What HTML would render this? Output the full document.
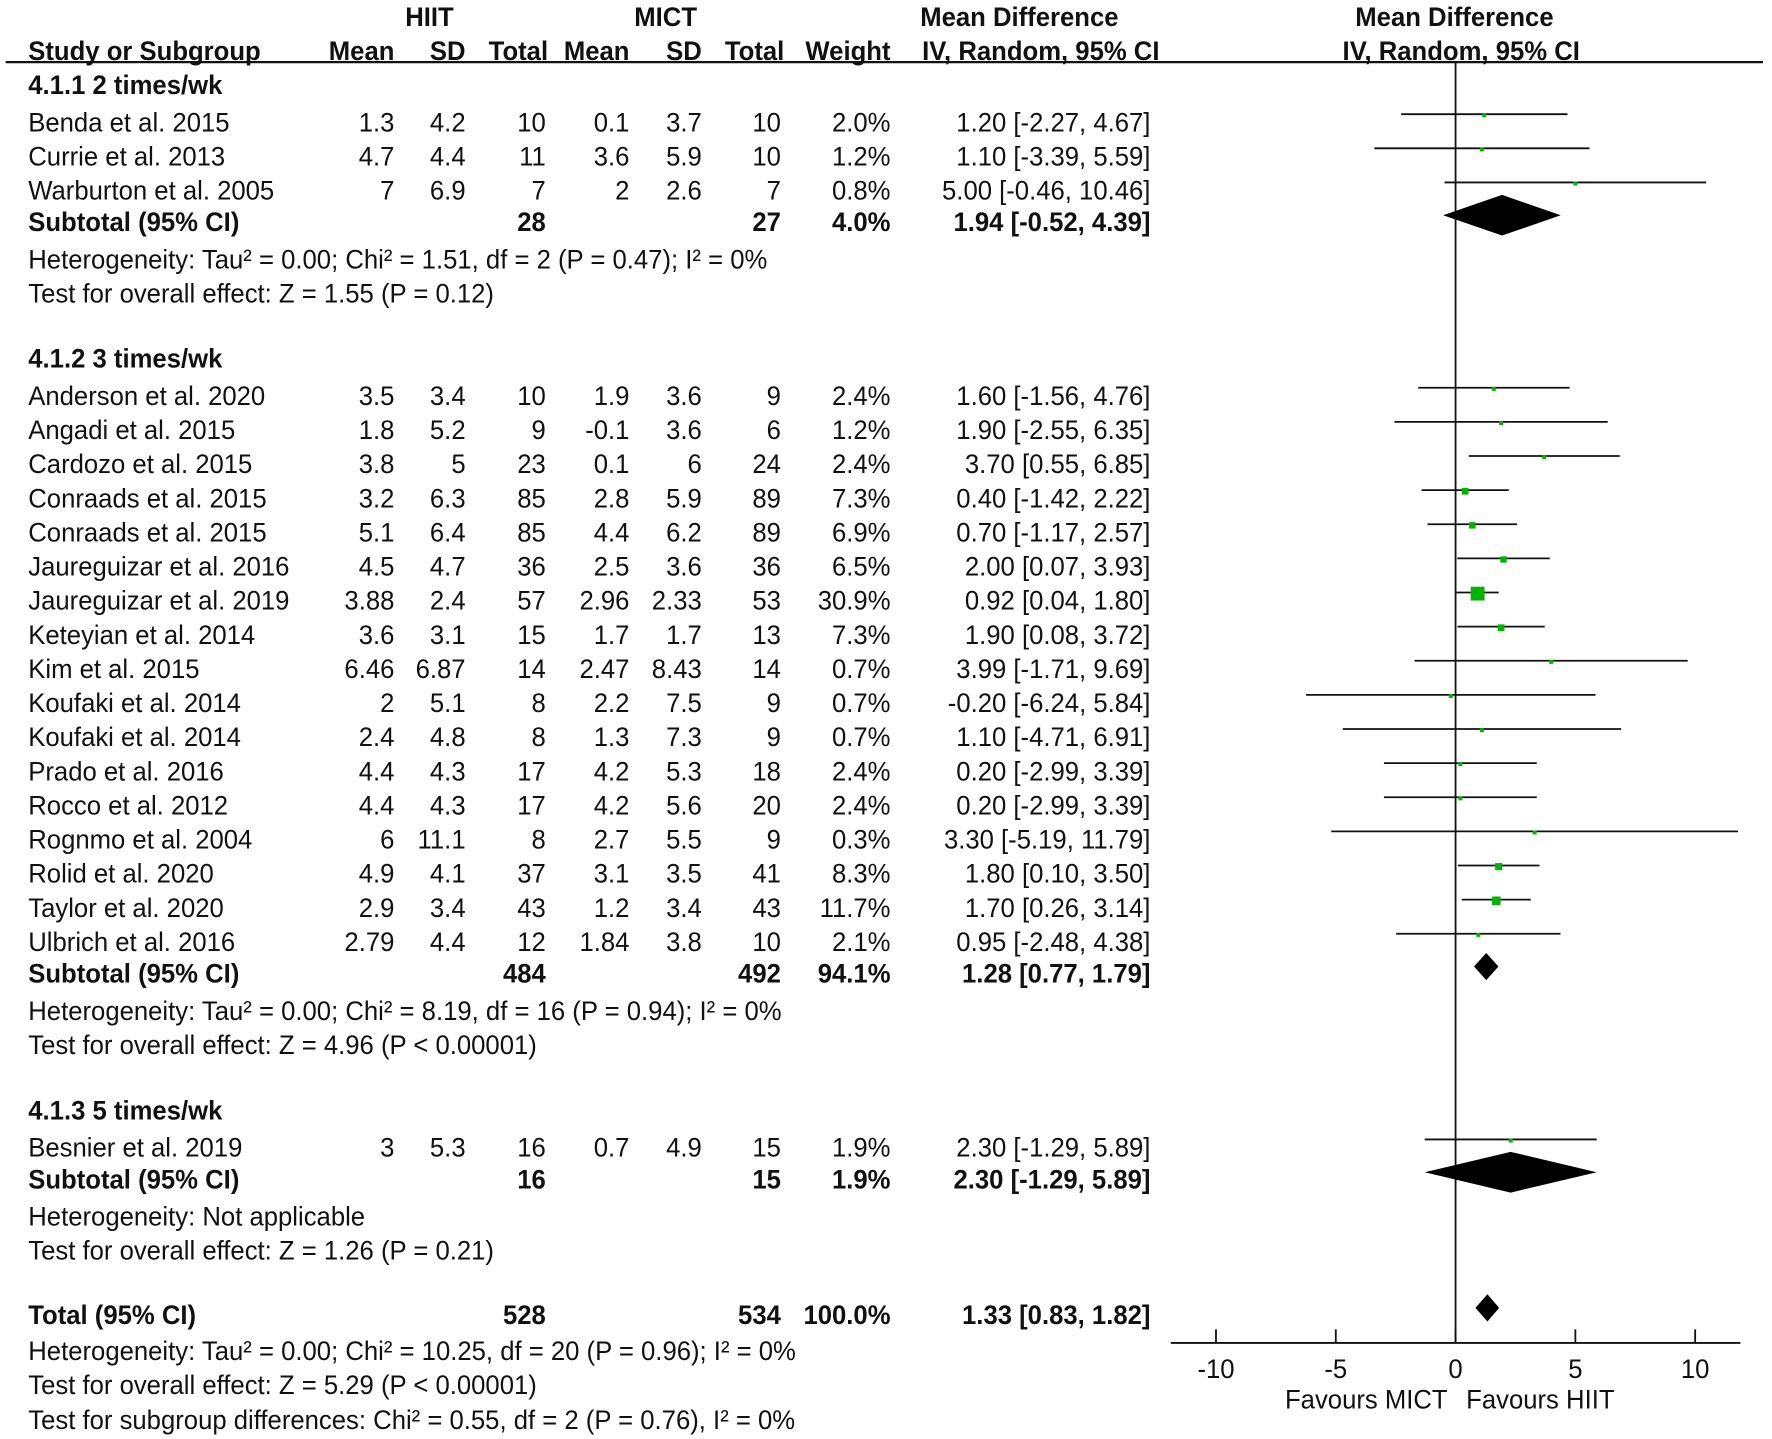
<!DOCTYPE html>
<html><head><meta charset="utf-8"><style>
html,body{margin:0;padding:0;background:#fff;}
svg{display:block;}
text{font-family:"Liberation Sans",Arial,sans-serif;font-size:24px;fill:#111;}
.b{font-weight:bold;}
</style></head><body>
<svg id="plot" width="1772" height="1439" viewBox="0 0 1568 1273" preserveAspectRatio="none" xmlns="http://www.w3.org/2000/svg"></svg>
<script>
const studyNames=["Benda et al. 2015","Currie et al. 2013","Warburton et al. 2005","Anderson et al. 2020","Angadi et al. 2015","Cardozo et al. 2015","Conraads et al. 2015","Conraads et al. 2015","Jaureguizar et al. 2016","Jaureguizar et al. 2019","Keteyian et al. 2014","Kim et al. 2015","Koufaki et al. 2014","Koufaki et al. 2014","Prado et al. 2016","Rocco et al. 2012","Rognmo et al. 2004","Rolid et al. 2020","Taylor et al. 2020","Ulbrich et al. 2016","Besnier et al. 2019"];
const studyGroup=[0,0,0,1,1,1,1,1,1,1,1,1,1,1,1,1,1,1,1,1,2];
const hiitMean=["1.3","4.7","7","3.5","1.8","3.8","3.2","5.1","4.5","3.88","3.6","6.46","2","2.4","4.4","4.4","6","4.9","2.9","2.79","3"];
const hiitSD=["4.2","4.4","6.9","3.4","5.2","5","6.3","6.4","4.7","2.4","3.1","6.87","5.1","4.8","4.3","4.3","11.1","4.1","3.4","4.4","5.3"];
const hiitN=[10,11,7,10,9,23,85,85,36,57,15,14,8,8,17,17,8,37,43,12,16];
const mictMean=["0.1","3.6","2","1.9","-0.1","0.1","2.8","4.4","2.5","2.96","1.7","2.47","2.2","1.3","4.2","4.2","2.7","3.1","1.2","1.84","0.7"];
const mictSD=["3.7","5.9","2.6","3.6","3.6","6","5.9","6.2","3.6","2.33","1.7","8.43","7.5","7.3","5.3","5.6","5.5","3.5","3.4","3.8","4.9"];
const mictN=[10,10,7,9,6,24,89,89,36,53,13,14,9,9,18,20,9,41,43,10,15];
const weights=[2.0,1.2,0.8,2.4,1.2,2.4,7.3,6.9,6.5,30.9,7.3,0.7,0.7,0.7,2.4,2.4,0.3,8.3,11.7,2.1,1.9];
const md=[1.20,1.10,5.00,1.60,1.90,3.70,0.40,0.70,2.00,0.92,1.90,3.99,-0.20,1.10,0.20,0.20,3.30,1.80,1.70,0.95,2.30];
const ciLo=[-2.27,-3.39,-0.46,-1.56,-2.55,0.55,-1.42,-1.17,0.07,0.04,0.08,-1.71,-6.24,-4.71,-2.99,-2.99,-5.19,0.10,0.26,-2.48,-1.29];
const ciHi=[4.67,5.59,10.46,4.76,6.35,6.85,2.22,2.57,3.93,1.80,3.72,9.69,5.84,6.91,3.39,3.39,11.79,3.50,3.14,4.38,5.89];
const groupTitles=["4.1.1 2 times/wk","4.1.2 3 times/wk","4.1.3 5 times/wk"];
const subHiitN=[28,484,16];
const subMictN=[27,492,15];
const subWeight=["4.0%","94.1%","1.9%"];
const subMd=[1.94,1.28,2.30];
const subLo=[-0.52,0.77,-1.29];
const subHi=[4.39,1.79,5.89];
const subHet=["Heterogeneity: Tau² = 0.00; Chi² = 1.51, df = 2 (P = 0.47); I² = 0%","Heterogeneity: Tau² = 0.00; Chi² = 8.19, df = 16 (P = 0.94); I² = 0%","Heterogeneity: Not applicable"];
const subTest=["Test for overall effect: Z = 1.55 (P = 0.12)","Test for overall effect: Z = 4.96 (P < 0.00001)","Test for overall effect: Z = 1.26 (P = 0.21)"];
const totalVals={hn:528,mn:534,w:"100.0%",md:1.33,lo:0.83,hi:1.82};
const xTicks=[-10,-5,0,5,10];

const svg=document.getElementById('plot');
const NS="http://www.w3.org/2000/svg";
const X0=1288, PX=21.2, AXY=1188;
function xs(v){return X0+v*PX;}
function mk(tag,attrs,name){const e=document.createElementNS(NS,tag);for(const k in attrs)e.setAttribute(k,attrs[k]);


svg.appendChild(e);return e;}
function txt(s,x,y,anchor,bold,name){const e=mk('text',{transform:`translate(${x},${y}) scale(0.947,1)`,'text-anchor':anchor||'start','dominant-baseline':'central'},name);if(bold)e.setAttribute('class','b');e.textContent=s;return e;}
function f2(v){return v.toFixed(2);}
function ci(m,l,h){return `${f2(m)} [${f2(l)}, ${f2(h)}]`;}
const colR=[349,412,483,557,621,691,788];

txt("HIIT",380,15,'middle',true,'hiit-header');
txt("MICT",589,15,'middle',true,'mict-header');
txt("Mean Difference",902,15,'middle',true,'md-header');
txt("Mean Difference",1287,15,'middle',true,'plot-md-header');
const hdr=["Mean","SD","Total","Mean","SD","Total","Weight"];
txt("Study or Subgroup",25,45,'start',true,'study-header');
hdr.forEach((h,i)=>txt(h,colR[i]+(i==2?2:i==5?3:0),45,'end',true,'col-header-'+h.toLowerCase()));
txt("IV, Random, 95% CI",921,45,'middle',true,'ci-header');
txt("IV, Random, 95% CI",1293,45,'middle',true,'plot-ci-header');
mk('line',{x1:5,y1:55,x2:1560,y2:55,stroke:'#111','stroke-width':2},'header-rule');
mk('line',{x1:xs(0),y1:55,x2:xs(0),y2:AXY,stroke:'#111','stroke-width':1.6},'zero-line');

const groupStart=[75,317,982];
groupTitles.forEach((g,gi)=>{
  let y=groupStart[gi];
  txt(g,25,y,'start',true,'group-title');
  y+=33;
  const members=[];studyGroup.forEach((v,i)=>{if(v===gi)members.push(i);});
  members.forEach((i,k)=>{
    const ry=y+k*30.19;
    txt(studyNames[i],25,ry,'start',false,'study-name');
    [hiitMean[i],hiitSD[i],hiitN[i],mictMean[i],mictSD[i],mictN[i],weights[i].toFixed(1)+"%"].forEach((v,c)=>txt(String(v),colR[c],ry,'end',false,'study-value'));
    txt(ci(md[i],ciLo[i],ciHi[i]),1018,ry,'end',false,'study-ci');
    mk('line',{x1:xs(ciLo[i]),y1:ry-7,x2:xs(ciHi[i]),y2:ry-7,stroke:'#111','stroke-width':1.6},'ci-line');
    const s=Math.max(3.5,2.2*Math.sqrt(weights[i]));
    mk('rect',{x:xs(md[i])-s/2,y:ry-6-s/2,width:s,height:s,fill:'#00b400'},'effect-square');
  });
  const sy=y+(members.length-1)*30.19+28;
  txt("Subtotal (95% CI)",25,sy,'start',true,'subtotal-label');
  txt(String(subHiitN[gi]),colR[2],sy,'end',true,'subtotal-hiit-n');
  txt(String(subMictN[gi]),colR[5],sy,'end',true,'subtotal-mict-n');
  txt(subWeight[gi],colR[6],sy,'end',true,'subtotal-weight');
  txt(ci(subMd[gi],subLo[gi],subHi[gi]),1018,sy,'end',true,'subtotal-ci');
  const w=xs(subHi[gi])-xs(subLo[gi]);const hh=w>60?18:12;
  mk('polygon',{points:`${xs(subLo[gi])},${sy-6} ${xs(subMd[gi])},${sy-6-hh} ${xs(subHi[gi])},${sy-6} ${xs(subMd[gi])},${sy-6+hh}`,fill:'#000'},'subtotal-diamond');
  txt(subHet[gi],25,sy+33,'start',false,'heterogeneity');
  txt(subTest[gi],25,sy+63,'start',false,'overall-effect');
});
const ty=1163;
txt("Total (95% CI)",25,ty,'start',true,'total-label');
txt(String(totalVals.hn),colR[2],ty,'end',true,'total-hiit-n');
txt(String(totalVals.mn),colR[5],ty,'end',true,'total-mict-n');
txt(totalVals.w,colR[6],ty,'end',true,'total-weight');
txt(ci(totalVals.md,totalVals.lo,totalVals.hi),1018,ty,'end',true,'total-ci');
mk('polygon',{points:`${xs(totalVals.lo)},${ty-6} ${xs(totalVals.md)},${ty-18} ${xs(totalVals.hi)},${ty-6} ${xs(totalVals.md)},${ty+6}`,fill:'#000'},'total-diamond');
txt("Heterogeneity: Tau² = 0.00; Chi² = 10.25, df = 20 (P = 0.96); I² = 0%",25,1195,'start',false,'total-heterogeneity');
txt("Test for overall effect: Z = 5.29 (P < 0.00001)",25,1225,'start',false,'total-overall-effect');
txt("Test for subgroup differences: Chi² = 0.55, df = 2 (P = 0.76), I² = 0%",25,1256,'start',false,'subgroup-differences');
mk('line',{x1:1036,y1:AXY,x2:1540,y2:AXY,stroke:'#111','stroke-width':1.6},'x-axis');
xTicks.forEach(t=>{
  mk('line',{x1:xs(t),y1:AXY,x2:xs(t),y2:AXY-12,stroke:'#111','stroke-width':1.6},'x-tick');
  txt(String(t),xs(t),AXY+23,'middle',false,'x-tick-label');
});
txt("Favours MICT",1209,1238,'middle',false,'favours-mict');
txt("Favours HIIT",1363,1238,'middle',false,'favours-hiit');
</script>
</body></html>
